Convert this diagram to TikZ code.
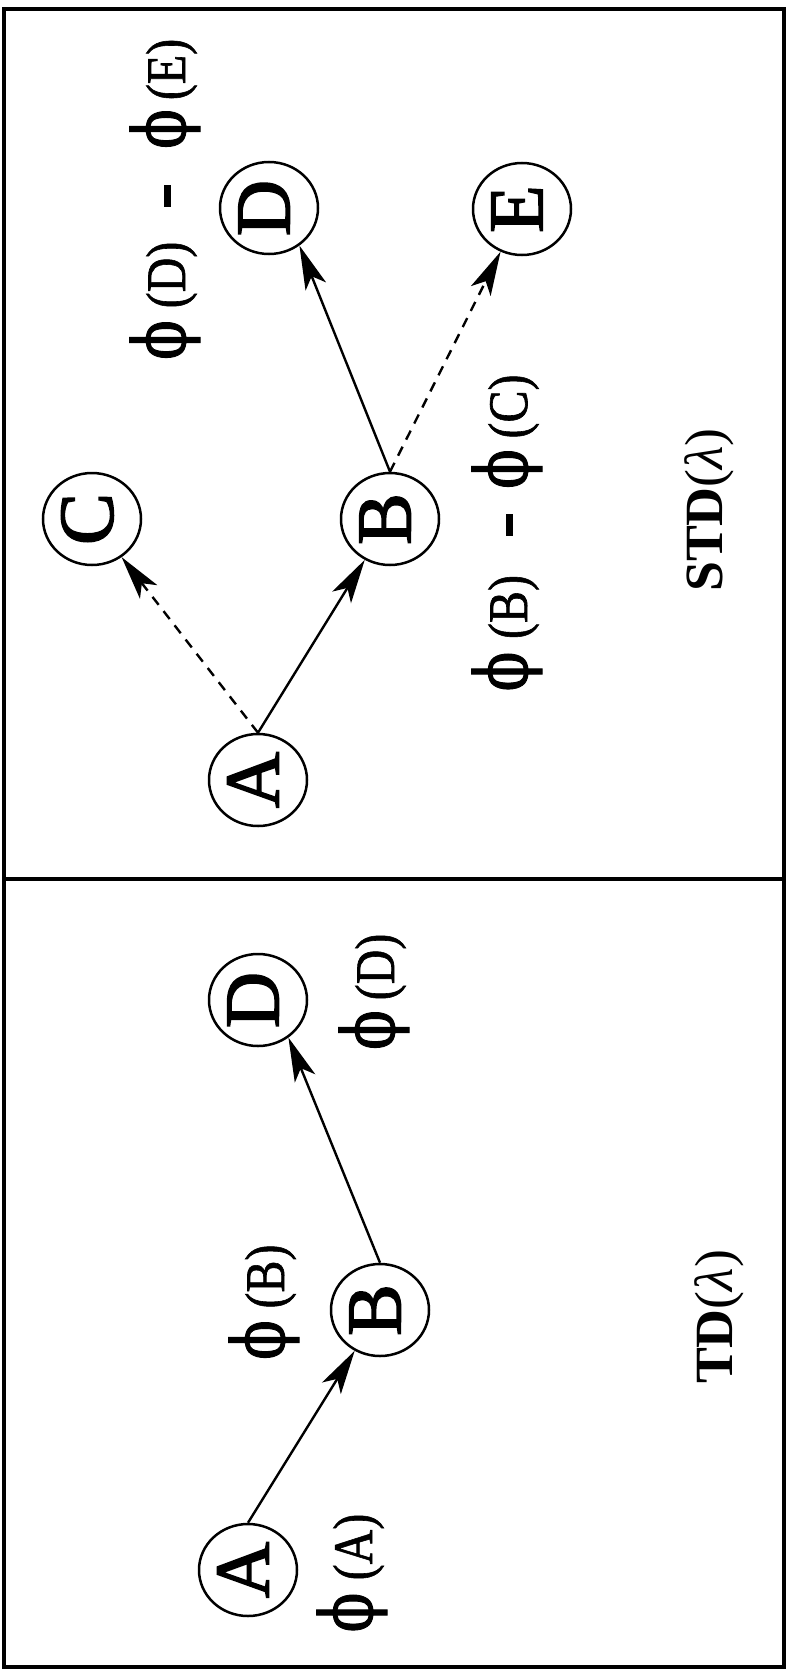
\documentclass[tikz,border=0pt]{standalone}
\usepackage{fontspec}
\usepackage{graphicx}
\setmainfont{Liberation Serif}
\newfontfamily\phifont[FakeBold=1.5]{DejaVu Serif}
\newfontfamily\labfont[FakeBold=1.2]{Liberation Serif}
\newfontfamily\letfont[FakeBold=2]{Liberation Serif}
\usetikzlibrary{arrows.meta,shapes.geometric}
\tikzset{
 st/.style={draw, ellipse, line width=2.5bp, minimum width=98bp, minimum height=92bp, inner sep=0pt, font=\letfont\fontsize{78}{78}\selectfont},
 arr/.style={line width=2.4bp, -{Stealth[length=44bp,width=22bp,inset=11bp]}},
 dsh/.style={dash pattern=on 10bp off 8bp},
 lab/.style={rotate=90, anchor=base, inner sep=0pt, xscale=0.86, font=\labfont\fontsize{56}{56}\selectfont},
 phl/.style={rotate=90, anchor=base, inner sep=0pt, xscale=0.8, font=\phifont\fontsize{73}{73}\selectfont},
 ttl/.style={rotate=90, anchor=base, inner sep=0pt, font=\fontsize{54}{54}\selectfont},
 frame/.style={line width=4.5bp},
}
\newcommand{\nlet}[1]{\rotatebox{90}{\rule[-10bp]{0pt}{10bp}#1}}
\newcommand{\mydash}{\rule[0.25em]{0.46em}{0.13em}}
\begin{document}
\begin{tikzpicture}[x=1bp,y=-1bp]
\useasboundingbox (0,0) rectangle (786,1670);
% frame
\draw[frame] (4,9) rectangle (784,1667);
\coordinate (divL) at (4,879);
\coordinate (divR) at (784,879);
\draw[line width=3.5bp] (divL) -- (divR);

% ===== top panel (STD) =====
\node[st] (A1) at (258,780) {\nlet{A}};
\node[st] (B1) at (390,519) {\nlet{B}};
\node[st] (C1) at (92,519) {\nlet{C}};
\node[st] (D1) at (269,208) {\nlet{D}};
\node[st] (E1) at (522,209) {\nlet{E}};

\draw[arr] (A1.north) -- (B1);
\draw[arr,dsh] (A1.north) -- (C1);
\draw[arr] (B1.north) -- (D1.-51);
\draw[arr,dsh] (B1.north) -- (E1);

% phi(D) - phi(E)
\node[phl] (p1a) at (185,340) {ϕ};
\node[lab] (p1b) at (185,275) {(D)};
\node[lab] (p1c) at (185,196) {\mydash};
\node[phl] (p1d) at (185,129) {ϕ};
\node[lab] (p1e) at (185,69.5) {(E)};

% phi(B) - phi(C)
\node[phl] (p2a) at (527,671.5) {ϕ};
\node[lab] (p2b) at (527,607) {(B)};
\node[lab] (p2c) at (527,525) {\mydash};
\node[phl] (p2d) at (527,469) {ϕ};
\node[lab] (p2e) at (527,406.5) {(C)};

\node[ttl] (std) at (722,510) {\textbf{STD}(\textit{λ})};

% ===== bottom panel (TD) =====
\node[st] (A2) at (248,1570) {\nlet{A}};
\node[st] (B2) at (380,1310) {\nlet{B}};
\node[st] (D2) at (258,1000) {\nlet{D}};

\draw[arr] (A2.north) -- (B2);
\draw[arr] (B2.north) -- (D2.-51);

\node[phl] (q1a) at (394,1030) {ϕ};
\node[lab] (q1b) at (394,967) {(D)};
\node[phl] (q2a) at (284,1340) {ϕ};
\node[lab] (q2b) at (284,1276.5) {(B)};
\node[phl] (q3a) at (372,1612.5) {ϕ};
\node[lab] (q3b) at (372,1547) {(A)};

\node[ttl] (td) at (732,1317) {\textbf{TD}(\textit{λ})};
\end{tikzpicture}
\end{document}
